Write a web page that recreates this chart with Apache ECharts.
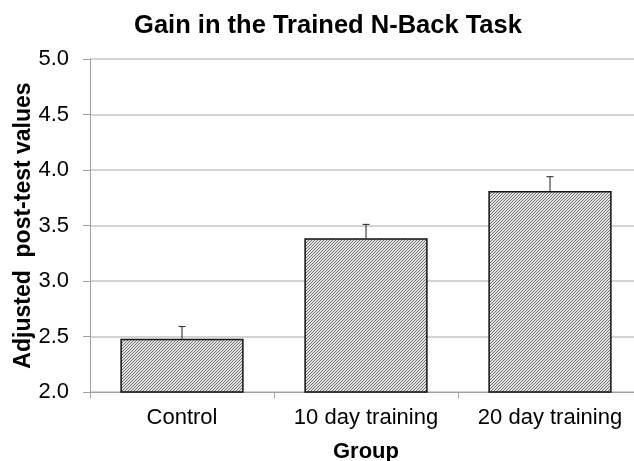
<!DOCTYPE html>
<html>
<head>
<meta charset="utf-8">
<script src="https://cdn.jsdelivr.net/npm/echarts@6/dist/echarts.min.js"></script>
<style>
html,body{margin:0;padding:0;background:#fff;}
#chart{width:634px;height:461px;}
</style>
</head>
<body>
<div id="chart"></div>
<script>
var categories = ['Control', '10 day training', '20 day training'];
var means = [2.48, 3.385, 3.81];
var errors = [0.11, 0.125, 0.13];
var yTicks = [2.0, 2.5, 3.0, 3.5, 4.0, 4.5, 5.0];
var titleText = 'Gain in the Trained N-Back Task';
var yName = 'Adjusted  post-test values';
var xName = 'Group';

function makeHatch() {
  var s = 3;
  var c = document.createElement('canvas');
  c.width = s; c.height = s;
  var ctx = c.getContext('2d');
  ctx.fillStyle = '#e4e4e4';
  ctx.fillRect(0, 0, s, s);
  ctx.strokeStyle = '#707070';
  ctx.lineWidth = 1;
  ctx.beginPath();
  ctx.moveTo(0, s); ctx.lineTo(s, 0);
  ctx.moveTo(-1, 1); ctx.lineTo(1, -1);
  ctx.moveTo(s - 1, s + 1); ctx.lineTo(s + 1, s - 1);
  ctx.stroke();
  return c;
}

var chart = echarts.init(document.getElementById('chart'), null, {renderer: 'canvas'});
var FONT = 'Liberation Sans, Arial, sans-serif';

var option = {
  animation: false,
  backgroundColor: '#fff',
  title: {
    text: titleText,
    left: 323, top: 8, textAlign: 'center',
    textStyle: {fontFamily: FONT, fontSize: 25.5, fontWeight: 'bold', color: '#000'}
  },
  grid: {left: 90, top: 59, width: 552, height: 333, containLabel: false, outerBoundsMode: 'none'},
  xAxis: {
    type: 'category',
    data: categories,
    name: xName,
    nameLocation: 'middle',
    nameGap: 49,
    nameMoveOverlap: false,
    nameTextStyle: {fontFamily: FONT, fontSize: 22, fontWeight: 'bold', color: '#000'},
    axisLine: {lineStyle: {color: '#a0a0a0', width: 1}},
    axisTick: {show: true, inside: false, length: 6, lineStyle: {color: '#a0a0a0'}},
    axisLabel: {fontFamily: FONT, fontSize: 22, color: '#000', margin: 15, interval: 0, hideOverlap: false}
  },
  yAxis: {
    type: 'value',
    min: yTicks[0], max: yTicks[yTicks.length - 1], interval: 0.5,
    name: yName,
    nameLocation: 'middle',
    nameRotate: 90,
    nameGap: 55,
    nameMoveOverlap: false,
    nameTextStyle: {fontFamily: FONT, fontSize: 23, fontWeight: 'bold', color: '#000'},
    axisLine: {show: true, lineStyle: {color: '#a0a0a0', width: 1}},
    axisTick: {show: true, length: 7, lineStyle: {color: '#a0a0a0'}},
    axisLabel: {fontFamily: FONT, fontSize: 22, color: '#000', margin: 21,
      formatter: function (v) { return v.toFixed(1); }},
    splitLine: {show: true, lineStyle: {color: '#c4c4c4', width: 1.5}}
  },
  series: [
    {
      type: 'bar',
      data: means,
      barWidth: '67%',
      itemStyle: {
        color: {image: makeHatch(), repeat: 'repeat'},
        borderColor: '#111',
        borderWidth: 1.5
      },
      z: 2
    },
    {
      type: 'custom',
      data: means.map(function (m, i) { return [i, m, m + errors[i]]; }),
      z: 3,
      renderItem: function (params, api) {
        var x = api.coord([api.value(0), api.value(1)]);
        var top = api.coord([api.value(0), api.value(2)]);
        var cap = 3.5;
        return {
          type: 'group',
          children: [
            {type: 'line', shape: {x1: x[0], y1: x[1], x2: top[0], y2: top[1]},
              style: {stroke: '#333', lineWidth: 1.1}},
            {type: 'line', shape: {x1: top[0] - cap, y1: top[1], x2: top[0] + cap, y2: top[1]},
              style: {stroke: '#333', lineWidth: 1.1}}
          ]
        };
      }
    }
  ]
};
chart.setOption(option);
</script>
</body>
</html>
